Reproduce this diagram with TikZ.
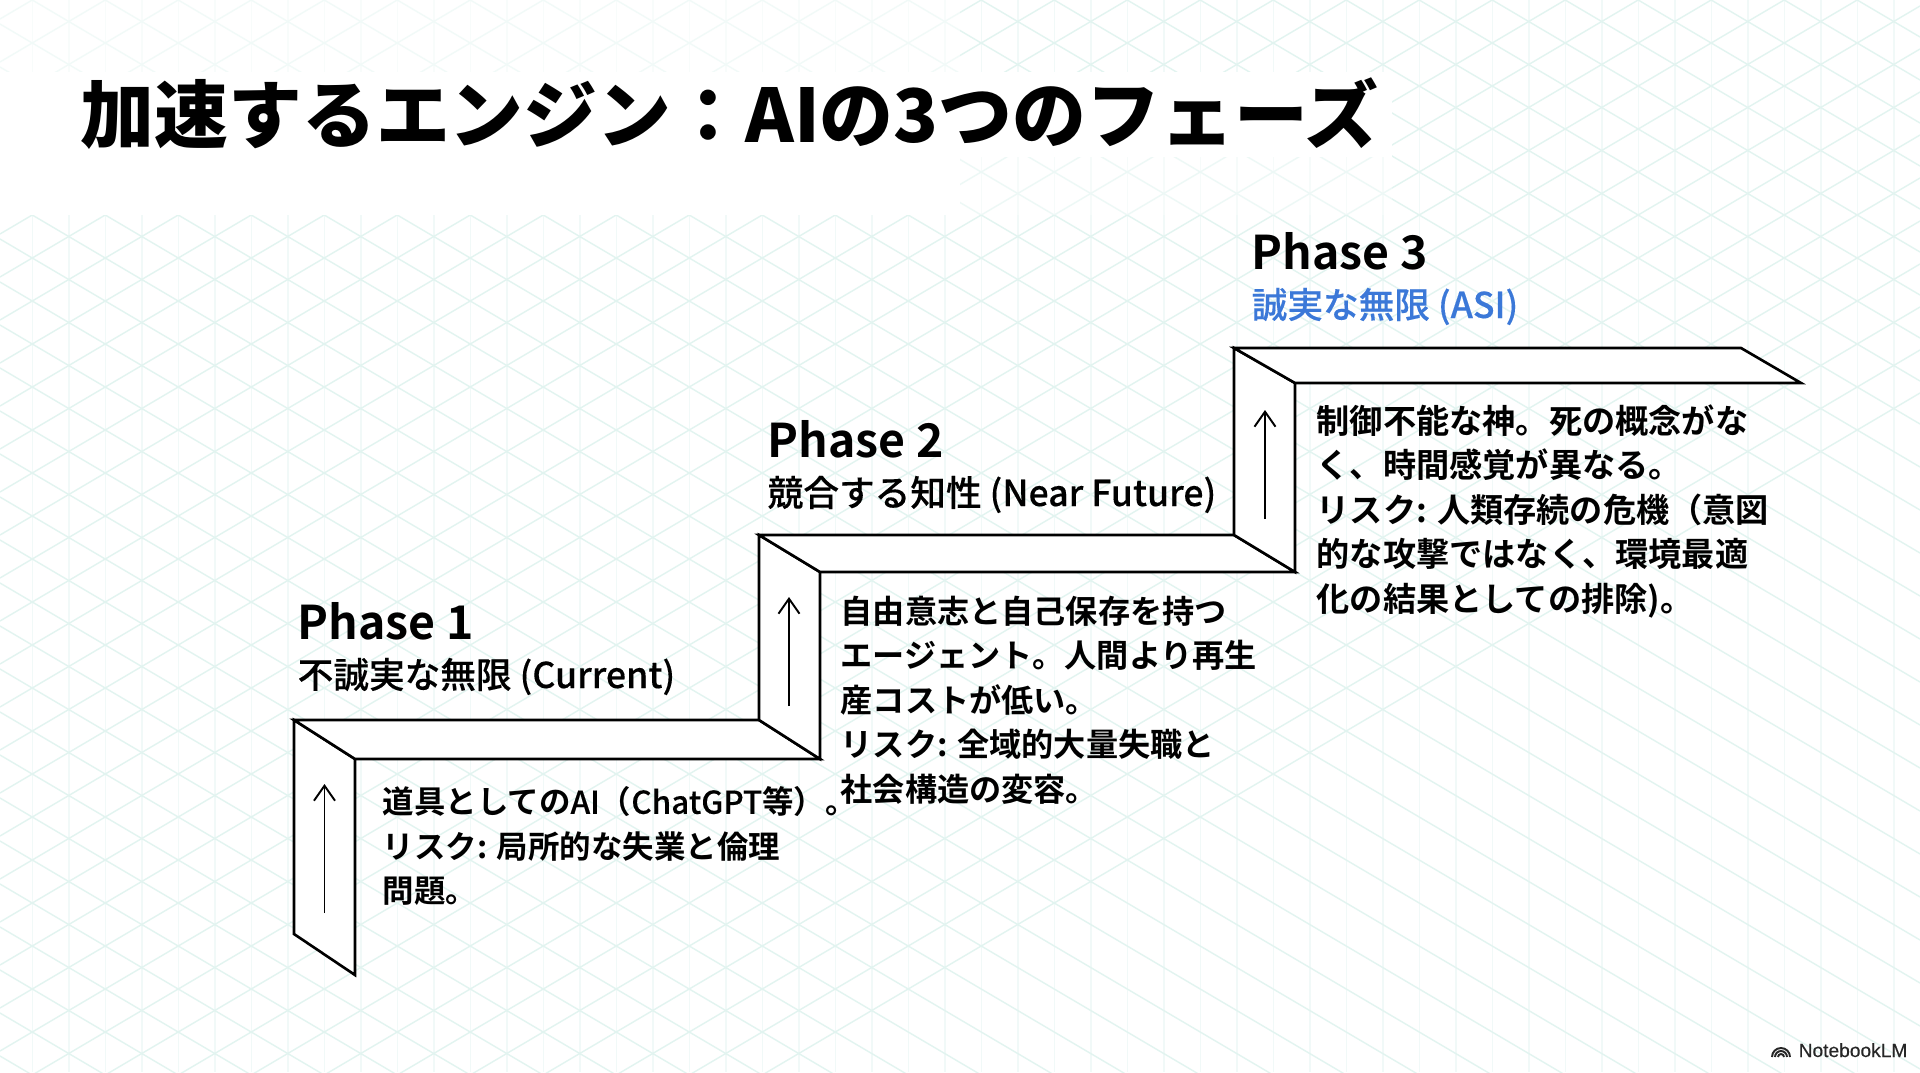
\documentclass[tikz,border=0pt]{standalone}
\usepackage{fontspec}
\usepackage{tikz}
\usetikzlibrary{arrows.meta, positioning, calc}
\setmainfont{Noto Sans CJK JP}[BoldFont=Noto Sans CJK JP Bold]
\newfontfamily\jpblack{Noto Sans CJK JP Black}
\newfontfamily\jpsemi{Noto Sans CJK JP Medium}[FakeBold=.2]
\newfontfamily\logofont{Liberation Sans}[FakeBold=.25]
\newcommand{\latinrun}[1]{{\mdseries\jpsemi #1}}
\definecolor{gridteal}{HTML}{E2F4F0}
\definecolor{gridpale}{HTML}{F1F9F8}
\definecolor{phaseblue}{HTML}{3B78D8}

\begin{document}
\begin{tikzpicture}[
    x=.01cm, y=-.01cm,
    gridline/.style={draw=gridteal, line width=.4pt},
    gridvert/.style={draw=gridpale, line width=.4pt},
    face/.style={draw=black, fill=white, line width=.75pt, line join=miter},
    lift/.style={-{Straight Barb[length=1.5mm, width=2.1mm]}, draw=black, line width=.55pt},
    heading/.style={anchor=base west, inner sep=0pt, font=\fontsize{21}{25}\jpblack},
    phase/.style={anchor=base west, inner sep=0pt, font=\fontsize{13.2}{17}\selectfont\bfseries},
    subline/.style={anchor=base west, inner sep=0pt, font=\fontsize{10.14}{13}\jpsemi},
    body/.style={anchor=north west, inner sep=0pt, align=left, font=\fontsize{9.44}{12.65}\selectfont\bfseries}
]
\useasboundingbox (0,0) rectangle (1920,1072);
\fill[white] (0,0) rectangle (1920,1072);

% paper grid
\begin{scope}
\clip (0,0) rectangle (1920,1072);
\foreach \k in {0,...,52}{\draw[gridvert] ({32.5+36.5*\k},0) -- ({32.5+36.5*\k},1072);}
\foreach \n in {-30,...,30}{
    \draw[gridline] (0,{215+43*\n-19}) -- (1920,{215+43*\n-19+1131});
    \draw[gridline] (0,{215+43*\n+19}) -- (1920,{215+43*\n+19-1131});
}
\fill[white] (0,72) rectangle (1392,157);
\fill[white] (0,157) rectangle (960,215);
\fill[white, opacity=.55] (0,0) rectangle (960,72);
\fill[white, opacity=.4] (960,157) rectangle (1392,215);
\end{scope}

\node[heading] (title) at (80,142) {加速するエンジン：AIの3つのフェーズ};

% corners of the stairs
\coordinate (a1) at (294,720);
\coordinate (b1) at (355,759);
\coordinate (c1) at (294,934);
\coordinate (d1) at (355,975);
\coordinate (e1) at (759,720);
\coordinate (f1) at (820,759);
\coordinate (a2) at (759,535);
\coordinate (b2) at (820,572);
\coordinate (e2) at (1234,535);
\coordinate (f2) at (1295,572);
\coordinate (a3) at (1234,348);
\coordinate (b3) at (1295,383);
\coordinate (e3) at (1741,348);
\coordinate (f3) at (1801,383);

\draw[face] (a1) -- (b1) -- (d1) -- (c1) -- cycle;
\draw[face] (a1) -- (e1) -- (f1) -- (b1) -- cycle;
\draw[face] (a2) -- (b2) -- (f1) -- (e1) -- cycle;
\draw[face] (a2) -- (e2) -- (f2) -- (b2) -- cycle;
\draw[face] (a3) -- (b3) -- (f2) -- (e2) -- cycle;
\draw[face] (a3) -- (e3) -- (f3) -- (b3) -- cycle;

\coordinate (up1s) at (324.5,913);
\coordinate (up1e) at (324.5,784);
\coordinate (up2s) at (789,706);
\coordinate (up2e) at (789,597);
\coordinate (up3s) at (1265,519);
\coordinate (up3e) at (1265,410);
\draw[lift] (up1s) -- (up1e);
\draw[lift] (up2s) -- (up2e);
\draw[lift] (up3s) -- (up3e);

\node[phase] (phase1) at (297,639) {Phase 1};
\node[subline] (sub1) at (297,688) {不誠実な無限 (Current)};
\node[body, font=\fontsize{8.95}{12.65}\selectfont\bfseries] (text1) at (382,786) {道具としての\latinrun{AI}（\latinrun{ChatGPT}等）。\\リスク: 局所的な失業と倫理\\問題。};

\node[phase] (phase2) at (767,457) {Phase 2};
\node[subline] (sub2) at (767,506) {競合する知性 (Near Future)};
\node[body, font=\fontsize{9.15}{12.65}\selectfont\bfseries] (text2) at (840,595) {自由意志と自己保存を持つ\\エージェント。人間より再生\\産コストが低い。\\リスク: 全域的大量失職と\\社会構造の変容。};

\node[phase] (phase3) at (1251,269) {Phase 3};
\node[subline, text=phaseblue] (sub3) at (1251,318) {誠実な無限 (ASI)};
\node[body] (text3) at (1316,404) {制御不能な神。死の概念がな\\く、時間感覚が異なる。\\リスク: 人類存続の危機（意図\\的な攻撃ではなく、環境最適\\化の結果としての排除)。};

% logo
\coordinate (mark) at (1781,1057);
\foreach \r in {3,6,9}{\draw[line width=.55pt, black!85] ($(mark)+(-\r,0)$) arc[start angle=180, end angle=360, radius=\r];}
\node[anchor=base west, inner sep=0pt, font=\fontsize{5.45}{6}\logofont, text=black!85] (brand) at (1798,1057) {NotebookLM};
\end{tikzpicture}
\end{document}
